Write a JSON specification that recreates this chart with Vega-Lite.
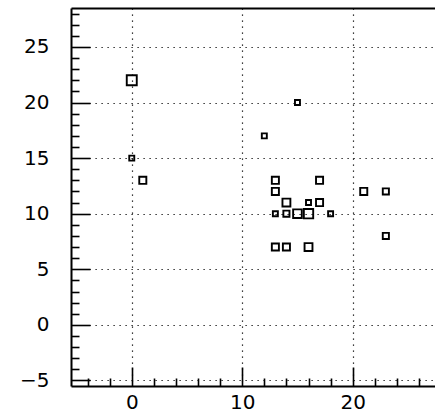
{
  "$schema": "https://vega.github.io/schema/vega-lite/v6.json",
  "width": 364,
  "height": 378,
  "autosize": {"type": "none"},
  "padding": {"left": 71, "top": 8, "right": 0, "bottom": 30},
  "background": "white",
  "config": {
    "view": {"stroke": null},
    "axis": {
      "labelFont": "DejaVu Sans",
      "labelFontSize": 20,
      "labelColor": "black",
      "domainColor": "black",
      "domainWidth": 2,
      "tickColor": "black",
      "tickWidth": 1.6,
      "gridColor": "black",
      "gridWidth": 1.2,
      "gridDash": [1.2, 4.8],
      "title": null
    }
  },
  "data": {
    "values": [
      {"x": 0, "y": 22, "w": 4},
      {"x": 15, "y": 20, "w": 1},
      {"x": 12, "y": 17, "w": 1},
      {"x": 0, "y": 15, "w": 1},
      {"x": 1, "y": 13, "w": 2},
      {"x": 13, "y": 13, "w": 2},
      {"x": 13, "y": 12, "w": 2},
      {"x": 14, "y": 11, "w": 2.5},
      {"x": 13, "y": 10, "w": 1},
      {"x": 14, "y": 10, "w": 1.5},
      {"x": 15, "y": 10, "w": 3},
      {"x": 16, "y": 10, "w": 3.5},
      {"x": 16, "y": 11, "w": 1},
      {"x": 17, "y": 13, "w": 2},
      {"x": 17, "y": 11, "w": 2},
      {"x": 18, "y": 10, "w": 1},
      {"x": 21, "y": 12, "w": 2},
      {"x": 23, "y": 12, "w": 1.5},
      {"x": 23, "y": 8, "w": 1.5},
      {"x": 13, "y": 7, "w": 2},
      {"x": 14, "y": 7, "w": 2},
      {"x": 16, "y": 7, "w": 2.5}
    ]
  },
  "resolve": {"axis": {"x": "independent", "y": "independent"}},
  "layer": [
    {
      "mark": {"type": "point", "shape": "square", "filled": false, "stroke": "black", "strokeWidth": 1.9, "opacity": 1, "clip": true},
      "encoding": {
        "x": {
          "field": "x",
          "type": "quantitative",
          "scale": {"domain": [-5.5, 27.45], "nice": false, "zero": false},
          "axis": {
            "orient": "bottom",
            "values": [-4, -2, 0, 2, 4, 6, 8, 10, 12, 14, 16, 18, 20, 22, 24, 26],
            "tickSize": {"condition": {"test": "datum.value % 10 === 0", "value": -19}, "value": -8},
            "labelExpr": "datum.value % 10 === 0 ? datum.label : ''",
            "grid": true,
            "gridOpacity": {"condition": {"test": "datum.value % 10 === 0", "value": 1}, "value": 0},
            "labelPadding": 25,
            "labelFlush": false,
            "labelOverlap": false
          }
        },
        "y": {
          "field": "y",
          "type": "quantitative",
          "scale": {"domain": [-5.5, 28.5], "nice": false, "zero": false},
          "axis": {
            "orient": "left",
            "values": [-5, -4, -3, -2, -1, 0, 1, 2, 3, 4, 5, 6, 7, 8, 9, 10, 11, 12, 13, 14, 15, 16, 17, 18, 19, 20, 21, 22, 23, 24, 25, 26, 27, 28],
            "tickSize": {"condition": {"test": "datum.value % 5 === 0", "value": -19}, "value": -8},
            "labelExpr": "datum.value % 5 === 0 ? datum.label : ''",
            "grid": true,
            "gridOpacity": {"condition": {"test": "datum.value % 5 === 0", "value": 1}, "value": 0},
            "labelPadding": 41,
            "labelFlush": false,
            "labelOverlap": false
          }
        },
        "size": {"field": "w", "type": "quantitative", "scale": {"domain": [1, 4], "range": [25, 100]}, "legend": null}
      }
    },
    {
      "mark": {"type": "point", "opacity": 0},
      "encoding": {
        "x": {
          "field": "x",
          "type": "quantitative",
          "axis": {"orient": "top", "ticks": false, "labels": false, "grid": false, "domain": true}
        },
        "y": {"field": "y", "type": "quantitative", "axis": null}
      }
    }
  ]
}
